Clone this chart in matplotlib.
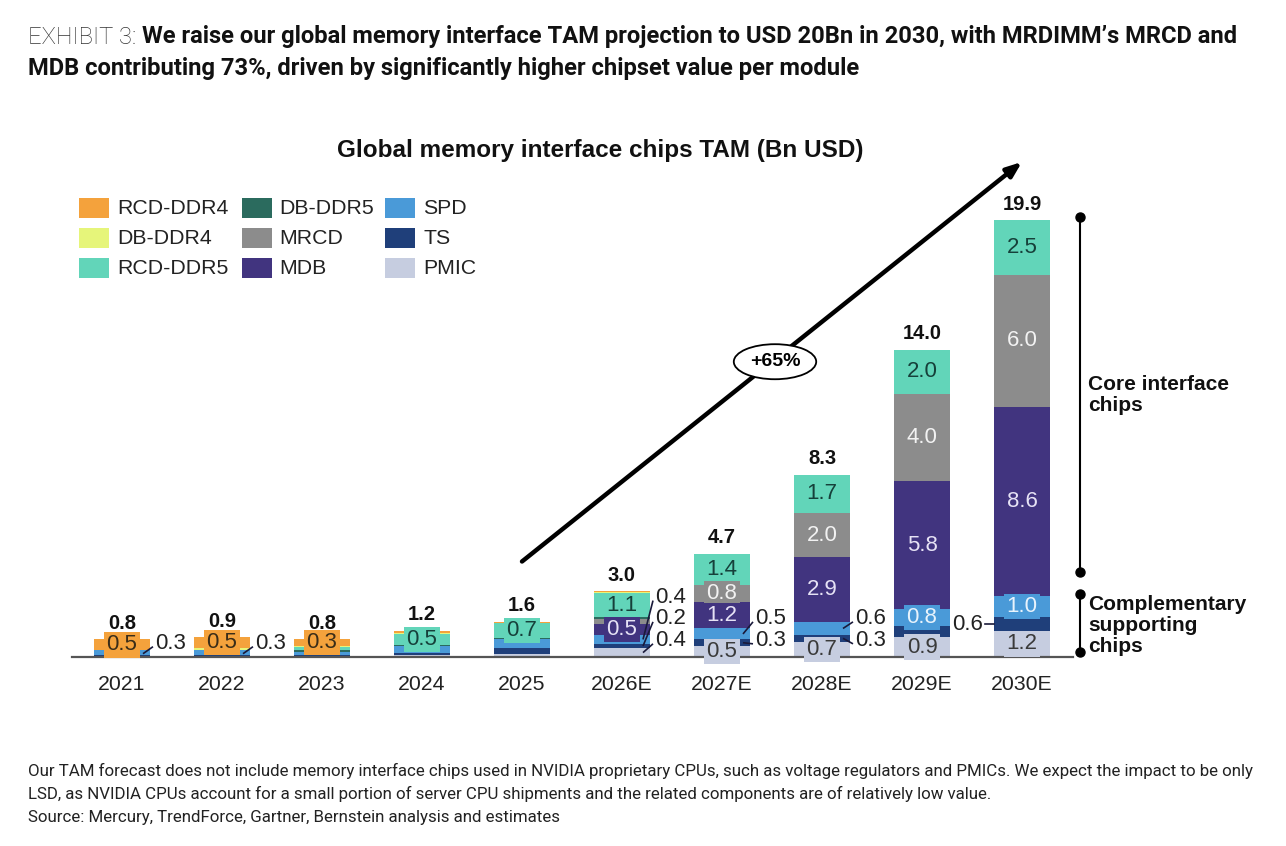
import matplotlib
matplotlib.use("Agg")
import matplotlib.pyplot as plt
from matplotlib.patches import Rectangle
import numpy as np

# ---------------- data ----------------
years = ["2021", "2022", "2023", "2024", "2025", "2026E", "2027E", "2028E", "2029E", "2030E"]
# stacked from bottom to top
pmic     = [0.05, 0.05, 0.05, 0.10, 0.15, 0.40, 0.5, 0.70, 0.9, 1.2]
ts       = [0.05, 0.05, 0.05, 0.10, 0.25, 0.20, 0.3, 0.30, 0.5, 0.6]
spd      = [0.20, 0.20, 0.15, 0.30, 0.40, 0.40, 0.5, 0.60, 0.8, 1.0]
mdb      = [0.00, 0.00, 0.00, 0.00, 0.00, 0.50, 1.2, 2.94, 5.8, 8.6]
mrcd     = [0.00, 0.00, 0.00, 0.00, 0.00, 0.25, 0.8, 2.02, 4.0, 6.0]
db_ddr5  = [0.00, 0.00, 0.05, 0.05, 0.05, 0.05, 0.0, 0.00, 0.0, 0.0]
rcd_ddr5 = [0.00, 0.00, 0.15, 0.50, 0.70, 1.10, 1.4, 1.74, 2.0, 2.5]
db_ddr4  = [0.00, 0.10, 0.05, 0.05, 0.00, 0.05, 0.0, 0.00, 0.0, 0.0]
rcd_ddr4 = [0.50, 0.50, 0.30, 0.10, 0.05, 0.05, 0.0, 0.00, 0.0, 0.0]

series = [
    ("PMIC", pmic, "#C6CDE0"),
    ("TS", ts, "#1F3F7A"),
    ("SPD", spd, "#4A9AD8"),
    ("MDB", mdb, "#41347F"),
    ("MRCD", mrcd, "#8C8C8C"),
    ("DB-DDR5", db_ddr5, "#2B6B5E"),
    ("RCD-DDR5", rcd_ddr5, "#62D5B9"),
    ("DB-DDR4", db_ddr4, "#E6F57A"),
    ("RCD-DDR4", rcd_ddr4, "#F4A23C"),
]
legend_cols = [["RCD-DDR4", "DB-DDR4", "RCD-DDR5"], ["DB-DDR5", "MRCD", "MDB"], ["SPD", "TS", "PMIC"]]

# which segments carry a value label inside the bar
inside_labels = {
    "RCD-DDR4": [0, 1, 2],
    "RCD-DDR5": [3, 4, 5, 6, 7, 8, 9],
    "MRCD": [6, 7, 8, 9],
    "MDB": [5, 6, 7, 8, 9],
    "SPD": [8, 9],
    "PMIC": [6, 7, 8, 9],
}
label_colors = {
    "RCD-DDR4": "#3a2d18", "RCD-DDR5": "#16403a", "MRCD": "#f2f2f2",
    "MDB": "#e6e2f5", "SPD": "#e8f3fc", "PMIC": "#3a3a3a",
}
# outside labels: (bar index, series summed, side, text y)
side_labels = [
    (0, ["SPD", "TS", "PMIC"], "right", 0.62),
    (1, ["SPD", "TS", "PMIC"], "right", 0.62),
    (5, ["SPD"], "right", 2.72),
    (5, ["TS"], "right", 1.75),
    (5, ["PMIC"], "right", 0.75),
    (6, ["SPD"], "right", 1.75),
    (6, ["TS"], "right", 0.75),
    (7, ["SPD"], "right", 1.75),
    (7, ["TS"], "right", 0.75),
    (9, ["TS"], "left", 1.5),
]

# ---------------- figure ----------------
plt.rcParams["font.family"] = ["Liberation Sans", "DejaVu Sans"]
W, H = 1286, 846
fig = plt.figure(figsize=(W / 100, H / 100), dpi=100)
ax = fig.add_axes([72 / W, (H - 657) / H, 1001 / W, (657 - 174) / H])
ax.set_xlim(-0.5, 9.51)
ax.set_ylim(0, 22)

colors = {n: c for n, _, c in series}
x = np.arange(len(years))
bw = 0.56
bottom = np.zeros(len(years))
seg = {}
for name, vals, col in series:
    v = np.array(vals, dtype=float)
    ax.bar(x, v, bw, bottom=bottom, color=col, edgecolor="none", zorder=2)
    seg[name] = (bottom.copy(), v)
    bottom = bottom + v
totals = bottom

FS = 16
# inside labels
for name, idxs in inside_labels.items():
    b, v = seg[name]
    for i in idxs:
        ax.text(x[i], b[i] + v[i] / 2, f"{v[i]:.1f}", ha="center", va="center",
                fontsize=FS, color=label_colors[name], zorder=4,
                bbox=dict(boxstyle="square,pad=0.1", fc=colors[name], ec="none"))

# totals
for i in range(len(years)):
    ax.text(x[i], totals[i] + 0.3, f"{totals[i]:.1f}", ha="center", va="bottom",
            fontsize=14.5, fontweight="bold", color="#111111", zorder=4)

# side labels with leader lines
for i, names, side, ty in side_labels:
    val = sum(seg[n][1][i] for n in names)
    lo = seg[names[-1]][0][i]
    hi = seg[names[0]][0][i] + seg[names[0]][1][i]
    mid = (lo + hi) / 2
    if side == "right":
        tx = x[i] + 0.33
        ax.plot([x[i] + bw / 2 - 0.07, tx - 0.02], [mid, ty - 0.15], color="#1a1a3a",
                lw=1.2, zorder=5, solid_capstyle="butt")
        ax.text(tx, ty, f"{val:.1f}", ha="left", va="center", fontsize=FS,
                color="#222222", zorder=5)
    else:
        tx = x[i] - 0.39
        ax.plot([tx + 0.02, x[i] - bw / 2], [mid, mid], color="#1a1a3a", lw=1.2, zorder=5)
        ax.text(tx, ty, f"{val:.1f}", ha="right", va="center", fontsize=FS,
                color="#222222", zorder=5)

# growth arrow + CAGR bubble
ax.annotate("", xy=(9.0, 22.55), xytext=(4.0, 4.35), annotation_clip=False,
            arrowprops=dict(arrowstyle="-|>,head_length=0.9,head_width=0.35",
                            color="black", lw=3.2, shrinkA=0, shrinkB=0), zorder=6)
ax.text(6.53, 13.45, "+65%", ha="center", va="center", fontsize=14, fontweight="bold",
        zorder=7, bbox=dict(boxstyle="ellipse,pad=0.2", fc="white", ec="black", lw=1.3))

# right-hand brackets
bx = 9.58
for y0, y1 in [(3.87, 20.05), (0.22, 2.87)]:
    ax.plot([bx, bx], [y0, y1], color="black", lw=1.5, clip_on=False, zorder=6)
    ax.plot([bx, bx], [y0, y1], "o", color="black", ms=6.5, clip_on=False, zorder=6)
ax.text(bx + 0.08, 11.95, "Core interface\nchips", ha="left", va="center", fontsize=15,
        fontweight="bold", color="#111111", linespacing=1.15)
ax.text(bx + 0.08, 1.45, "Complementary\nsupporting\nchips", ha="left", va="center",
        fontsize=15, fontweight="bold", color="#111111", linespacing=1.13)

# axes styling
for s in ["top", "right", "left"]:
    ax.spines[s].set_visible(False)
ax.spines["bottom"].set_color("#555555")
ax.spines["bottom"].set_linewidth(1.6)
ax.set_yticks([])
ax.set_xticks(x)
ax.set_xticklabels(years, fontsize=15.3, color="#222222")
ax.tick_params(axis="x", length=0, pad=13)

# legend (drawn manually in figure pixels)
col_patch_x = [79, 242, 385]
col_text_x = [117, 279, 423]
row_y = [208, 238, 268]
for c, names in enumerate(legend_cols):
    for r_, name in enumerate(names):
        fig.patches.append(Rectangle((col_patch_x[c] / W, 1 - (row_y[r_] + 10) / H),
                                     30 / W, 20 / H, transform=fig.transFigure,
                                     fc=colors[name], ec="none"))
        fig.text(col_text_x[c] / W, 1 - row_y[r_] / H, name, ha="left", va="center",
                 fontsize=15.3, color="#222222")

# chart title
fig.text(600 / W, 1 - 151 / H, "Global memory interface chips TAM (Bn USD)", ha="center",
         va="center", fontsize=17.5, fontweight="bold", color="#111111")

# exhibit headline
r = fig.canvas.get_renderer()
t1 = fig.text(28 / W, 1 - 37 / H, "EXHIBIT 3: ", ha="left", va="center", fontsize=17.1,
              family="Roboto", fontweight="light", color="#333333")
bb = t1.get_window_extent(r)
fig.text(bb.x1 / W, 1 - 37 / H,
         "We raise our global memory interface TAM projection to USD 20Bn in 2030, with MRDIMM\u2019s MRCD and",
         ha="left", va="center", fontsize=17.1, family="Roboto", fontweight="bold", color="#111111")
fig.text(28 / W, 1 - 68 / H,
         "MDB contributing 73%, driven by significantly higher chipset value per module",
         ha="left", va="center", fontsize=17.1, family="Roboto", fontweight="bold", color="#111111")

# footnote
notes = [
    "Our TAM forecast does not include memory interface chips used in NVIDIA proprietary CPUs, such as voltage regulators and PMICs. We expect the impact to be only",
    "LSD, as NVIDIA CPUs account for a small portion of server CPU shipments and the related components are of relatively low value.",
    "Source: Mercury, TrendForce, Gartner, Bernstein analysis and estimates",
]
for k, line in enumerate(notes):
    fig.text(28 / W, 1 - (771 + 23 * k) / H, line, ha="left", va="center", fontsize=12.2,
             family="Roboto", color="#222222")

fig.savefig("out.png", dpi=100, facecolor="white")
